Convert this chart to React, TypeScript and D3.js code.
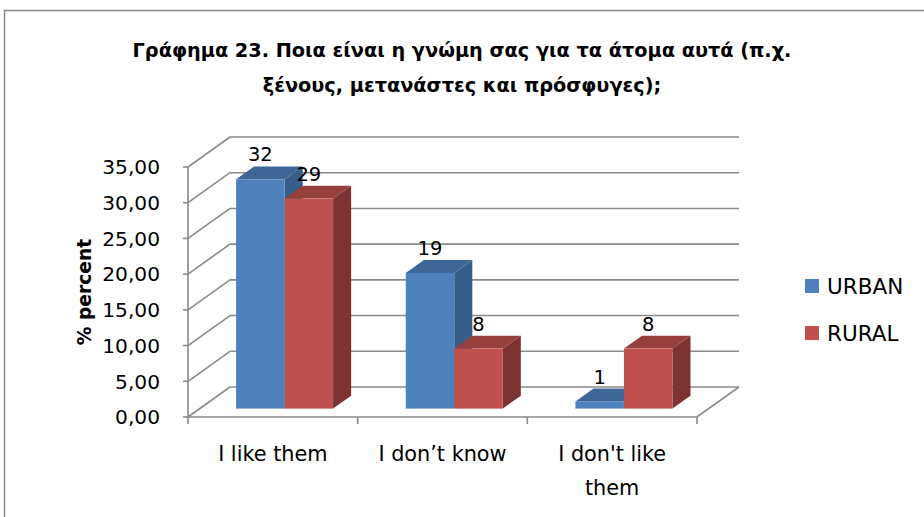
import React, { useEffect, useRef } from 'react';
import * as d3 from 'd3';

const categories = ['I like them', 'I don’t know', "I don't like them"];
const categoryLines = [['I like them'], ['I don’t know'], ["I don't like", 'them']];
const seriesNames = ['URBAN', 'RURAL'];
const urban = [32.1, 19.0, 1.0];
const rural = [29.4, 8.4, 8.4];
const yTicks = [0, 5, 10, 15, 20, 25, 30, 35];

const colors = [
  { front: '#4F81BD', top: '#3E6797', side: '#375D8B' },
  { front: '#C0504D', top: '#95403D', side: '#7C3331' },
];

const FONT = '"DejaVu Sans", sans-serif';

export default function App() {
  const svgRef = useRef<SVGSVGElement>(null);

  useEffect(() => {
    if (!svgRef.current) return;
    const svg = d3.select(svgRef.current);
    svg.selectAll('*').remove();

    const width = 924;
    const height = 517;

    // depth offset of the back wall
    const depthX = 42;
    const depthY = -30;
    const front = { left: 188, right: 697, bottom: 417, top: 167 };

    const y = d3.scaleLinear().domain([0, 35]).range([front.bottom, front.top]);
    const x = d3.scaleBand<string>().domain(categories).range([front.left, front.right]).paddingInner(0).paddingOuter(0);
    const xInner = d3.scaleBand<string>().domain(seriesNames).range([0, 97]);
    const gridColor = '#8a8a8a';

    // outer chart border
    svg.append('rect')
      .attr('x', 4.5).attr('y', 10.5)
      .attr('width', 1000).attr('height', 600)
      .attr('fill', '#fff')
      .attr('stroke', '#868686')
      .attr('stroke-width', 1.5);

    // title
    const title = svg.append('text')
      .attr('text-anchor', 'middle')
      .attr('font-family', FONT)
      .attr('font-weight', 'bold')
      .attr('font-size', 19.3)
      .attr('fill', '#000');
    title.append('tspan').attr('x', 462).attr('y', 57).text('Γράφημα 23. Ποια είναι η γνώμη σας για τα άτομα αυτά (π.χ.');
    title.append('tspan').attr('x', 462).attr('y', 92).text('ξένους, μετανάστες και πρόσφυγες);');

    const g = svg.append('g');

    // back wall gridlines
    yTicks.forEach((t) => {
      g.append('line')
        .attr('x1', front.left + depthX).attr('x2', front.right + depthX)
        .attr('y1', y(t) + depthY).attr('y2', y(t) + depthY)
        .attr('stroke', gridColor).attr('stroke-width', 1.6);
      // left wall diagonals
      g.append('line')
        .attr('x1', front.left).attr('x2', front.left + depthX)
        .attr('y1', y(t)).attr('y2', y(t) + depthY)
        .attr('stroke', gridColor).attr('stroke-width', 1.6);
      // axis tick
      g.append('line')
        .attr('x1', front.left - 5).attr('x2', front.left)
        .attr('y1', y(t)).attr('y2', y(t))
        .attr('stroke', gridColor).attr('stroke-width', 1.6);
      g.append('text')
        .attr('x', 160).attr('y', y(t))
        .attr('dy', '0.36em')
        .attr('text-anchor', 'end')
        .attr('font-family', FONT)
        .attr('font-size', 20.2)
        .attr('fill', '#000')
        .text(d3.format('.2f')(t).replace('.', ','));
    });

    // floor
    g.append('path')
      .attr('d', `M${front.left},${y(0)} L${front.right},${y(0)} L${front.right + depthX},${y(0) + depthY}`)
      .attr('fill', 'none')
      .attr('stroke', gridColor).attr('stroke-width', 1.6);
    // front vertical axis
    g.append('line')
      .attr('x1', front.left).attr('x2', front.left)
      .attr('y1', y(0)).attr('y2', y(35))
      .attr('stroke', gridColor).attr('stroke-width', 1.6);

    // category ticks
    const bounds = categories.map((c) => x(c)!).concat([front.right]);
    bounds.forEach((bx) => {
      g.append('line')
        .attr('x1', bx).attr('x2', bx)
        .attr('y1', y(0)).attr('y2', y(0) + 7)
        .attr('stroke', gridColor).attr('stroke-width', 1.6);
    });

    // category labels
    categories.forEach((c, i) => {
      const cx = x(c)! + x.bandwidth() / 2;
      categoryLines[i].forEach((line, j) => {
        g.append('text')
          .attr('x', cx).attr('y', 461 + j * 34)
          .attr('text-anchor', 'middle')
          .attr('font-family', FONT)
          .attr('font-size', 20.8)
          .attr('fill', '#000')
          .text(line);
      });
    });

    // bars (3D boxes)
    const f0 = 0.28;
    const f1 = 0.71;
    const series = [urban, rural];
    const bars = g.append('g');
    categories.forEach((c, i) => {
      seriesNames.forEach((s, k) => {
        const v = series[k][i];
        const col = colors[k];
        const x0 = x(c)! + (x.bandwidth() - 97) / 2 + xInner(s)! + depthX * f0;
        const x1 = x0 + xInner.bandwidth();
        const yb = y(0) + depthY * f0;
        const yt = y(v) + depthY * f0;
        const ddx = depthX * (f1 - f0);
        const ddy = depthY * (f1 - f0);

        bars.append('path')
          .attr('d', `M${x1},${yt} L${x1 + ddx},${yt + ddy} L${x1 + ddx},${yb + ddy} L${x1},${yb} Z`)
          .attr('fill', col.side);
        bars.append('path')
          .attr('d', `M${x0},${yt} L${x0 + ddx},${yt + ddy} L${x1 + ddx},${yt + ddy} L${x1},${yt} Z`)
          .attr('fill', col.top);
        bars.append('rect')
          .attr('x', x0).attr('y', yt)
          .attr('width', x1 - x0).attr('height', yb - yt)
          .attr('fill', col.front);
      });
    });

    // value labels
    categories.forEach((c, i) => {
      seriesNames.forEach((s, k) => {
        const v = series[k][i];
        const x0 = x(c)! + (x.bandwidth() - 97) / 2 + xInner(s)! + depthX * f0;
        const cx = x0 + xInner.bandwidth() / 2;
        const yt = y(v) + depthY * f1;
        g.append('text')
          .attr('x', cx).attr('y', yt - 5)
          .attr('text-anchor', 'middle')
          .attr('font-family', FONT)
          .attr('font-size', 19.5)
          .attr('fill', '#000')
          .text(String(Math.round(v)));
      });
    });

    // y axis title
    g.append('text')
      .attr('transform', `translate(91,292) rotate(-90)`)
      .attr('text-anchor', 'middle')
      .attr('font-family', FONT)
      .attr('font-weight', 'bold')
      .attr('font-size', 18.7)
      .attr('fill', '#000')
      .text('% percent');

    // legend
    const legend = svg.append('g').attr('transform', 'translate(805,279)');
    seriesNames.forEach((s, k) => {
      const row = legend.append('g').attr('transform', `translate(0,${k * 47})`);
      row.append('rect')
        .attr('width', 14).attr('height', 14)
        .attr('fill', colors[k].front);
      row.append('text')
        .attr('x', 22).attr('y', 15)
        .attr('font-family', FONT)
        .attr('font-size', 21.5)
        .attr('fill', '#000')
        .text(s);
    });

    svg.attr('width', width).attr('height', height);
  }, []);

  return (
    <svg
      ref={svgRef}
      width={924}
      height={517}
      style={{ position: 'absolute', left: 0, top: 0, background: '#fff' }}
    />
  );
}
